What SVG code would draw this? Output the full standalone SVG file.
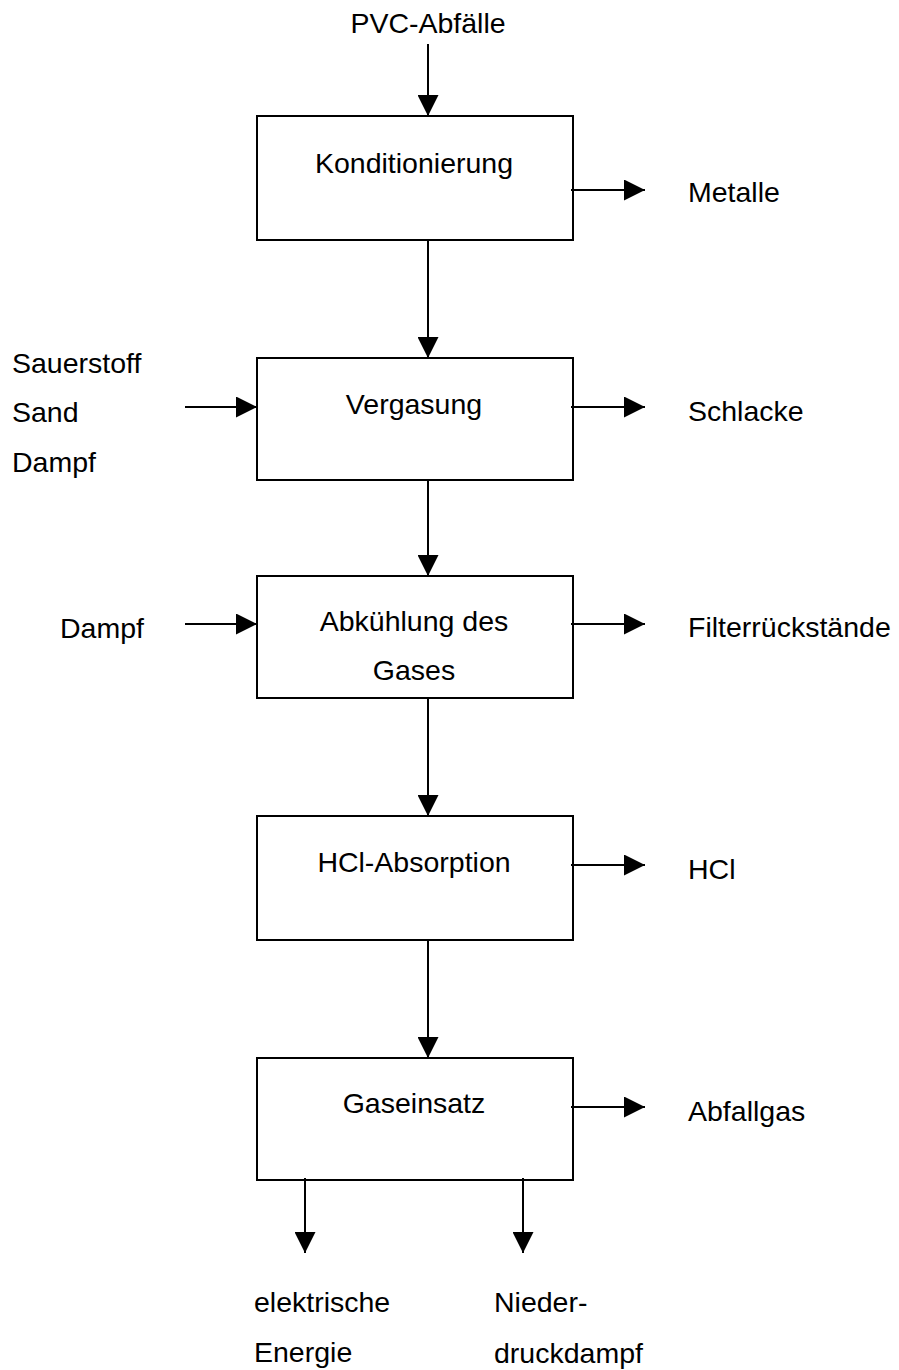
<svg xmlns="http://www.w3.org/2000/svg" width="899" height="1370" viewBox="0 0 899 1370">
  <style>
    .box { fill: #ffffff; stroke: #000000; stroke-width: 2; }
    .flow { fill: none; stroke: #000000; stroke-width: 2; marker-end: url(#head); }
    text { font-family: "Liberation Sans", Arial, sans-serif; font-size: 28.5px; fill: #000000; }
    .mid { text-anchor: middle; }
  </style>
  <defs>
    <marker id="head" markerUnits="userSpaceOnUse" viewBox="0 0 21 21" refX="21" refY="10.5" markerWidth="21" markerHeight="21" orient="auto">
      <path d="M0,0 L21,10.5 L0,21 Z" fill="#000000"/>
    </marker>
  </defs>

  <rect width="899" height="1370" fill="#ffffff"/>

  <!-- process steps -->
  <g id="konditionierung">
    <rect class="box" x="257" y="116" width="316" height="124"/>
    <text class="mid" x="414" y="173">Konditionierung</text>
  </g>
  <g id="vergasung">
    <rect class="box" x="257" y="358" width="316" height="122"/>
    <text class="mid" x="414" y="414">Vergasung</text>
  </g>
  <g id="abkuehlung">
    <rect class="box" x="257" y="576" width="316" height="122"/>
    <text class="mid" x="414" y="631">Abkühlung des</text>
    <text class="mid" x="414" y="680">Gases</text>
  </g>
  <g id="hcl-absorption">
    <rect class="box" x="257" y="816" width="316" height="124"/>
    <text class="mid" x="414" y="872">HCl-Absorption</text>
  </g>
  <g id="gaseinsatz">
    <rect class="box" x="257" y="1058" width="316" height="122"/>
    <text class="mid" x="414" y="1113">Gaseinsatz</text>
  </g>

  <!-- inputs and outputs -->
  <g id="labels">
    <text class="mid" x="428" y="33">PVC-Abfälle</text>
    <text x="688" y="202">Metalle</text>
    <text x="12" y="373">Sauerstoff</text>
    <text x="12" y="422">Sand</text>
    <text x="12" y="472">Dampf</text>
    <text x="688" y="421">Schlacke</text>
    <text x="60" y="638">Dampf</text>
    <text x="688" y="637">Filterrückstände</text>
    <text x="688" y="879">HCl</text>
    <text x="688" y="1121">Abfallgas</text>
    <text x="254" y="1312">elektrische</text>
    <text x="254" y="1362">Energie</text>
    <text x="494" y="1312">Nieder-</text>
    <text x="494" y="1363">druckdampf</text>
  </g>

  <!-- connectors -->
  <g id="connectors">
    <line class="flow" x1="428" y1="44" x2="428" y2="116"/>
    <line class="flow" x1="428" y1="240" x2="428" y2="358"/>
    <line class="flow" x1="428" y1="480" x2="428" y2="576"/>
    <line class="flow" x1="428" y1="698" x2="428" y2="816"/>
    <line class="flow" x1="428" y1="940" x2="428" y2="1058"/>
    <line class="flow" x1="571" y1="190" x2="645" y2="190"/>
    <line class="flow" x1="185" y1="407" x2="257" y2="407"/>
    <line class="flow" x1="571" y1="407" x2="645" y2="407"/>
    <line class="flow" x1="185" y1="624" x2="257" y2="624"/>
    <line class="flow" x1="571" y1="624" x2="645" y2="624"/>
    <line class="flow" x1="571" y1="865" x2="645" y2="865"/>
    <line class="flow" x1="571" y1="1107" x2="645" y2="1107"/>
    <line class="flow" x1="305" y1="1178" x2="305" y2="1253"/>
    <line class="flow" x1="523" y1="1178" x2="523" y2="1253"/>
  </g>
</svg>
